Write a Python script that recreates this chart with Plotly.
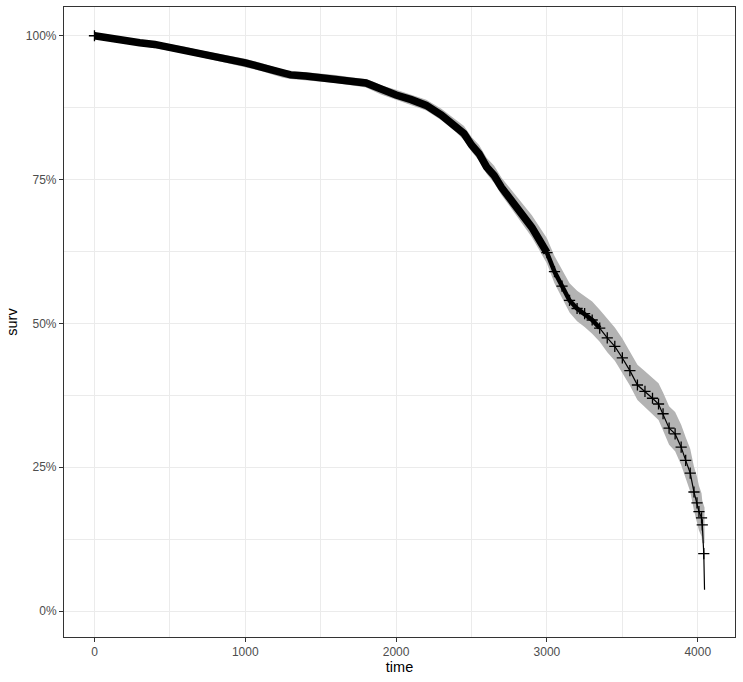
import plotly.graph_objects as go

# Kaplan-Meier estimate
time = [0, 100, 200, 300, 400, 500, 600, 700, 800, 900, 1000, 1100, 1200, 1250, 1300,
        1400, 1500, 1600, 1700, 1800, 1850, 1900, 2000, 2100, 2200, 2300, 2400, 2450,
        2500, 2550, 2600, 2650, 2700, 2750, 2800, 2850, 2900, 2950, 3000, 3050, 3100,
        3150, 3200, 3250, 3300, 3350, 3400, 3450, 3500, 3550, 3600, 3650, 3700, 3740,
        3770, 3810, 3850, 3890, 3920, 3950, 3975, 3995, 4008, 4025, 4030, 4040, 4045]
surv = [1.000, 0.995, 0.992, 0.988, 0.985, 0.980, 0.975, 0.969, 0.964, 0.958, 0.953,
        0.946, 0.938, 0.934, 0.932, 0.930, 0.928, 0.925, 0.921, 0.918, 0.912, 0.906,
        0.897, 0.889, 0.879, 0.862, 0.842, 0.830, 0.810, 0.795, 0.772, 0.757, 0.736,
        0.719, 0.702, 0.684, 0.667, 0.645, 0.623, 0.590, 0.565, 0.540, 0.526, 0.517,
        0.506, 0.492, 0.475, 0.460, 0.440, 0.418, 0.393, 0.382, 0.370, 0.360, 0.343,
        0.318, 0.308, 0.285, 0.262, 0.240, 0.207, 0.188, 0.173, 0.162, 0.150, 0.100,
        0.037]
lower = [1.000, 0.991, 0.987, 0.983, 0.979, 0.974, 0.969, 0.963, 0.957, 0.951, 0.946,
         0.939, 0.931, 0.927, 0.925, 0.923, 0.921, 0.918, 0.914, 0.910, 0.904, 0.898,
         0.889, 0.880, 0.870, 0.853, 0.832, 0.819, 0.799, 0.783, 0.760, 0.744, 0.723,
         0.705, 0.687, 0.668, 0.650, 0.627, 0.604, 0.570, 0.544, 0.519, 0.504, 0.494,
         0.482, 0.468, 0.450, 0.435, 0.414, 0.392, 0.367, 0.355, 0.342, 0.332, 0.314,
         0.289, 0.278, 0.254, 0.231, 0.208, 0.175, 0.155, 0.140, 0.130, 0.118, 0.118,
         0.118]
upper = [1.000, 0.998, 0.996, 0.993, 0.990, 0.986, 0.981, 0.975, 0.970, 0.965, 0.960,
         0.953, 0.945, 0.941, 0.939, 0.937, 0.935, 0.932, 0.928, 0.925, 0.920, 0.914,
         0.906, 0.898, 0.889, 0.873, 0.854, 0.843, 0.824, 0.810, 0.788, 0.774, 0.753,
         0.737, 0.721, 0.704, 0.688, 0.668, 0.648, 0.617, 0.594, 0.570, 0.557, 0.548,
         0.538, 0.524, 0.508, 0.493, 0.474, 0.452, 0.428, 0.417, 0.406, 0.396, 0.380,
         0.356, 0.346, 0.324, 0.302, 0.282, 0.251, 0.234, 0.218, 0.205, 0.192, 0.180,
         0.180]

x_ticks = [0, 1000, 2000, 3000, 4000]
x_tick_labels = ["0", "1000", "2000", "3000", "4000"]
y_ticks = [0, 0.25, 0.5, 0.75, 1.0]
y_tick_labels = ["0%", "25%", "50%", "75%", "100%"]

dense_until = 3000     # censoring marks overlap into a solid band up to here
medium_until = 3350

FONT = "Liberation Sans, Arial, sans-serif"

fig = go.Figure()

# confidence ribbon
fig.add_trace(go.Scatter(x=time, y=upper, mode="lines", line=dict(width=0),
                         hoverinfo="skip"))
fig.add_trace(go.Scatter(x=time, y=lower, mode="lines", line=dict(width=0),
                         fill="tonexty", fillcolor="rgb(179,179,179)", hoverinfo="skip"))

# dense censoring marks (overlapping '+' forming a solid band)
dense_t = [t for t in time if t <= dense_until]
dense_s = [s for t, s in zip(time, surv) if t <= dense_until]
fig.add_trace(go.Scatter(x=dense_t, y=dense_s, mode="lines",
                         line=dict(color="black", width=7.5), hoverinfo="skip"))
med_t = [t for t in time if dense_until <= t <= medium_until]
med_s = [s for t, s in zip(time, surv) if dense_until <= t <= medium_until]
fig.add_trace(go.Scatter(x=med_t, y=med_s, mode="lines",
                         line=dict(color="black", width=4.5), hoverinfo="skip"))

# survival curve
fig.add_trace(go.Scatter(x=time, y=surv, mode="lines",
                         line=dict(color="black", width=1.2)))

# censor marks (individually visible beyond the dense part)
mark_t = [t for t in time[:-1] if t >= dense_until]
mark_s = [s for t, s in zip(time[:-1], surv[:-1]) if t >= dense_until]
fig.add_trace(go.Scatter(x=[time[0]] + mark_t, y=[surv[0]] + mark_s, mode="markers",
                         marker=dict(symbol="cross-thin", size=8, color="black",
                                     line=dict(color="black", width=1.3))))

axis_common = dict(
    showline=True, mirror=True, linecolor="#333333", linewidth=1.1,
    showgrid=True, gridcolor="#EBEBEB", gridwidth=1.1,
    zeroline=False, ticks="outside", ticklen=4, tickwidth=1.1, tickcolor="#333333",
    tickfont=dict(family=FONT, size=12, color="#4D4D4D"),
    automargin=False,
)

fig.update_xaxes(
    **axis_common,
    range=[-202, 4247], tickmode="array", tickvals=x_ticks, ticktext=x_tick_labels,
    minor=dict(tickmode="array", tickvals=[500, 1500, 2500, 3500], showgrid=True,
               gridcolor="#EBEBEB", gridwidth=0.55, ticks=""),
    title=dict(text="time", font=dict(family=FONT, size=14.5, color="black"), standoff=3),
)
fig.update_yaxes(
    **axis_common,
    range=[-0.045, 1.05], tickmode="array", tickvals=y_ticks, ticktext=y_tick_labels,
    minor=dict(tickmode="array", tickvals=[0.125, 0.375, 0.625, 0.875], showgrid=True,
               gridcolor="#EBEBEB", gridwidth=0.55, ticks=""),
    title=dict(text="surv", font=dict(family=FONT, size=14.5, color="black"), standoff=4),
)

fig.update_layout(
    width=743, height=682,
    margin=dict(l=64, r=8, t=7, b=45),
    plot_bgcolor="white", paper_bgcolor="white",
    showlegend=False,
)

# the page body has a default 8px margin; remove it so the figure fills the window
fig.write_html("out.html", config={"displayModeBar": False},
               post_script="document.body.style.margin='0';")
